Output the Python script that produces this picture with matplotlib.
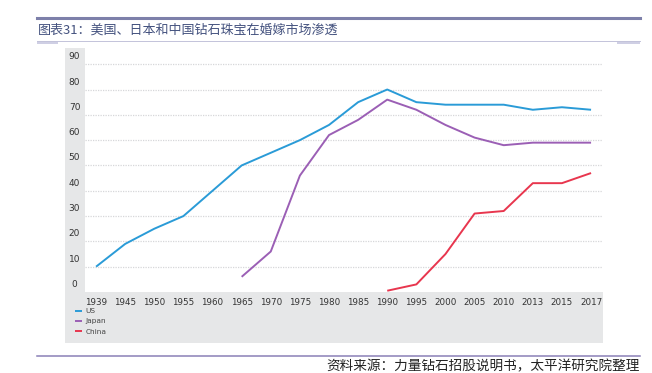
import matplotlib.pyplot as plt
from matplotlib.patches import Rectangle
from matplotlib.lines import Line2D
from matplotlib.transforms import ScaledTranslation

plt.rcParams['font.family'] = ['DejaVu Sans', 'Noto Sans CJK SC']

years = ['1939', '1945', '1950', '1955', '1960', '1965', '1970', '1975', '1980',
         '1985', '1990', '1995', '2000', '2005', '2010', '2013', '2015', '2017']
us = [10, 19, 25, 30, 40, 50, 55, 60, 66, 75, 80, 75, 74, 74, 74, 72, 73, 72]
japan = [None, None, None, None, None, 6, 16, 46, 62, 68, 76, 72, 66, 61, 58, 59, 59, 59]
china = [None] * 10 + [0.5, 3, 15, 31, 32, 43, 43, 47]
series = [('US', us, '#2a9bd7'), ('Japan', japan, '#9b5fb5'), ('China', china, '#e8364e')]
yticks = [0, 10, 20, 30, 40, 50, 60, 70, 80, 90]

title = '图表31：美国、日本和中国钻石珠宝在婚嫁市场渗透'
source = '资料来源：力量钻石招股说明书，太平洋研究院整理'

W, H = 652, 373
fx = lambda x: x / W
fy = lambda y: 1 - y / H

fig = plt.figure(figsize=(W / 100, H / 100), dpi=100)

# page decorations
fig.add_artist(Line2D([fx(37), fx(640)], [fy(18), fy(18)], color='#7d80aa', lw=2.2))
fig.add_artist(Line2D([fx(37), fx(640)], [fy(40.5), fy(40.5)], color='#c3c3da', lw=0.7))
fig.add_artist(Rectangle((fx(37), fy(43.5)), fx(21), 3 / H, color='#cfcfe4', lw=0))
fig.add_artist(Rectangle((fx(617), fy(44)), fx(23), 3.5 / H, color='#cfcfe4', lw=0))
fig.text(fx(38), fy(30), title, fontsize=9.4, color='#44527f', va='center', ha='left',
         family=['Noto Sans CJK SC'])
fig.add_artist(Line2D([fx(37), fx(640)], [fy(356), fy(356)], color='#8a80b6', lw=1.1))
fig.text(fx(640), fy(366), source, fontsize=9.8, color='#222222', va='center', ha='right',
         family=['Noto Sans CJK SC'], style='italic')

# grey chart frame
fig.add_artist(Rectangle((fx(65), fy(343)), fx(603 - 65), (343 - 48) / H,
                         color='#e6e7e8', lw=0, zorder=-1))

ax = fig.add_axes([fx(85), fy(292), fx(603 - 85), (292 - 48) / H])
ax.set_facecolor('white')
for s in ax.spines.values():
    s.set_visible(False)

for name, vals, col in series:
    xs = [i for i, v in enumerate(vals) if v is not None]
    ys = [v for v in vals if v is not None]
    ax.plot(xs, ys, color=col, lw=1.4, label=name, solid_capstyle='butt', zorder=3)

ax.set_xlim(-0.38, 17.41)
ax.set_ylim(0, 96.4)
ax.set_xticks(range(len(years)))
ax.set_xticklabels(years, fontsize=6.3, color='#333333')
ax.tick_params(axis='x', length=0, pad=4)
ax.set_yticks([])
for v in yticks[1:]:
    ax.axhline(v, color='#d6d7d9', lw=0.9, ls=(0, (1, 1)), zorder=1)

off = ScaledTranslation(0, 7.5 / 100, fig.dpi_scale_trans)
for v in yticks:
    ax.text(-0.0203, v, str(v), transform=ax.get_yaxis_transform() + off,
            ha='center', va='center', fontsize=6.5, color='#333333', clip_on=False)

fig.legend(loc='upper left', bbox_to_anchor=(fx(75), fy(308)), frameon=False,
           fontsize=5.3, handlelength=0.9, handletextpad=0.5, labelspacing=0.55,
           borderaxespad=0, borderpad=0, labelcolor='#444444')

fig.savefig('out.png', dpi=100)
